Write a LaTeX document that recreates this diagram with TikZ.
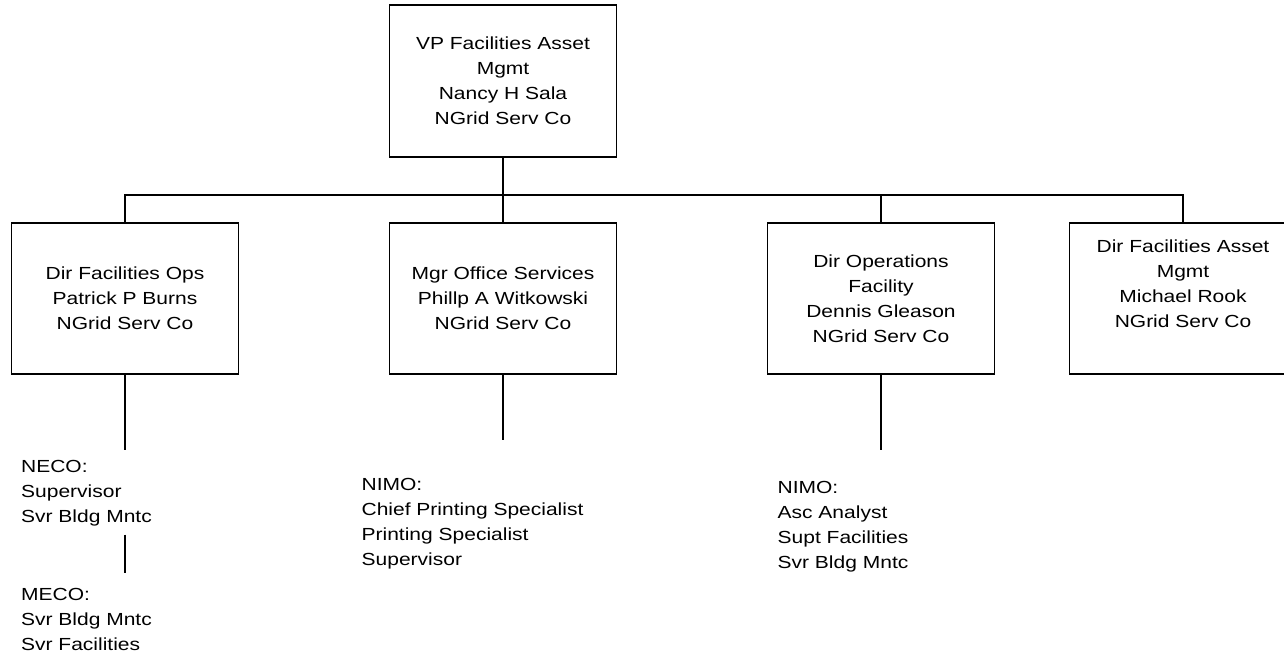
\documentclass[tikz,border=0pt]{standalone}
\usepackage{fontspec}
\setmainfont{Liberation Sans}[FakeStretch=1.2]
\begin{document}
\begin{tikzpicture}[x=1pt,y=-1pt,
  line width=1.3pt,
  font=\fontsize{17.5}{25}\selectfont,
  orgbox/.style={draw, minimum width=227pt, minimum height=151pt, inner sep=0pt, align=center},
  staff/.style={inner sep=0pt, align=left, anchor=north west},
  link/.style={draw, line width=1.3pt}
]
\useasboundingbox (0,0) rectangle (1284,659);
\clip (0,0) rectangle (1284,659);
% boxes
\node[orgbox, minimum height=152pt] (top) at (503,81) {VP Facilities Asset\\Mgmt\\Nancy H Sala\\NGrid Serv Co};
\node[orgbox] (b1) at (125,298.5) {Dir Facilities Ops\\Patrick P Burns\\NGrid Serv Co};
\node[orgbox] (b2) at (503,298.5) {Mgr Office Services\\Phillp A Witkowski\\NGrid Serv Co};
\node[orgbox] (b3) at (881,298.5) {Dir Operations\\Facility\\Dennis Gleason\\NGrid Serv Co};
\node[orgbox, label={[inner sep=0pt, align=center, anchor=north, yshift=-17pt, label distance=0pt]north:Dir Facilities Asset\\Mgmt\\Michael Rook\\NGrid Serv Co}] (b4) at (1183,298.5) {};
% staff lists
\node[staff] (n1) at (20.5,459.5) {NECO:\\Supervisor\\Svr Bldg Mntc};
\node[staff] (n2) at (20.5,588) {MECO:\\Svr Bldg Mntc\\Svr Facilities};
\node[staff] (n3) at (361,478) {NIMO:\\Chief Printing Specialist\\Printing Specialist\\Supervisor};
\node[staff] (n4) at (777,480.5) {NIMO:\\Asc Analyst\\Supt Facilities\\Svr Bldg Mntc};
% bus
\coordinate (busL) at (125,195);
\coordinate (busR) at (1183,195);
\draw[link] (top.south) -- (b2.north);
\draw[link] (b1.north) -- (busL) -- (busR) -- (b4.north);
\draw[link] (b3.north) -- (b3.north |- busL);
% lower connectors
\draw[link, shorten >=9.5pt] (b1.south) -- (b1.south |- n1.north);
\draw[link, shorten <=8pt, shorten >=15pt] (b1.south |- n1.south) -- (b1.south |- n2.north);
\draw[link, shorten >=38pt] (b2.south) -- (b2.south |- n3.north);
\draw[link, shorten >=30.5pt] (b3.south) -- (b3.south |- n4.north);
\end{tikzpicture}
\end{document}
